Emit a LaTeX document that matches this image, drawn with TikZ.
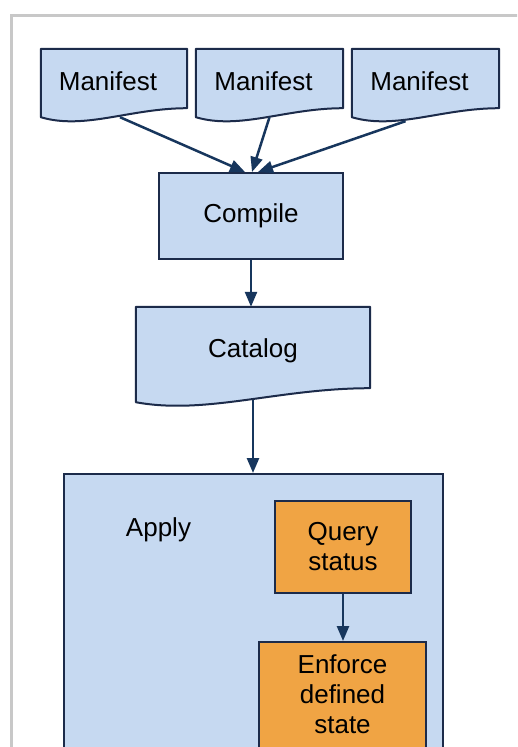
\documentclass[tikz,border=0pt]{standalone}
\usepackage{fontspec}
\setmainfont{Liberation Sans}
\usetikzlibrary{arrows.meta,backgrounds,calc}

\definecolor{boxblue}{HTML}{C6D9F1}
\definecolor{boxedge}{HTML}{1C2B4A}
\definecolor{arrowblue}{HTML}{17365D}
\definecolor{taskorange}{HTML}{F0A444}
\definecolor{framegray}{HTML}{C8C8C8}

% Outline of a document shape built on the rectangle of node #1:
% the right end of the wavy bottom rises by #2, the left end drops by #3,
% #4 sets how deep the wave dips on the left.
\newcommand\docoutline[4]{%
  \path[docedge] (#1.north west) -- (#1.north east) -- ([yshift=#2pt]#1.south east)
    .. controls ($(#1.south west)!0.61!(#1.south east)+(0,-#2)$)
    and ($(#1.south west)!0.30!(#1.south east)+(0,#4)$)
    .. ([yshift=-#3pt]#1.south west) -- cycle;}

\begin{document}
\begin{tikzpicture}[x=1pt,y=-1pt,
  every node/.style={font=\fontsize{26}{30}\selectfont, inner sep=0pt},
  box/.style={rectangle, draw=boxedge, line width=2pt, fill=boxblue},
  docbody/.style={rectangle, draw=none},
  task/.style={rectangle, draw=boxedge, line width=2pt, fill=taskorange},
  docedge/.style={draw=boxedge, line width=2pt, fill=boxblue, line join=round},
  flow/.style={draw=arrowblue, line width=2.5pt, -{Triangle[length=15pt,width=12pt]}},
]
\clip (0,0) rectangle (517,747);

% page frame
\draw[framegray, line width=3pt] (11.5,760) -- (11.5,15.5) -- (530,15.5);

% manifests
\node[docbody, minimum width=146pt, minimum height=64pt] (m1) at (114,81) {\hspace*{-12pt}Manifest};
\node[docbody, minimum width=147pt, minimum height=64pt] (m2) at (269.5,81) {\hspace*{-12pt}Manifest};
\node[docbody, minimum width=147pt, minimum height=64pt] (m3) at (425.5,81) {\hspace*{-12pt}Manifest};

% compile and catalog
\node[box, minimum width=184pt, minimum height=86pt] (compile) at (251,216) {Compile};
\node[docbody, minimum width=234pt, minimum height=88pt] (catalog) at (253,351) {Catalog};

\begin{scope}[on background layer]
  \fill[white] (0,0) rectangle (517,747);
  \docoutline{m1}{5}{4}{17}
  \docoutline{m2}{5}{4}{17}
  \docoutline{m3}{5}{4}{17}
  \docoutline{catalog}{7}{7}{20}
\end{scope}

% apply stage
\node[box, minimum width=379pt, minimum height=340pt, anchor=north] (apply) at (253.5,473) {};
\node (applylabel) at (158.5,530) {Apply};
\node[task, minimum width=136pt, minimum height=92pt, align=center] (query) at (343,547) {Query\\status};
\node[task, minimum width=167pt, minimum height=150pt, anchor=north] (enforce) at (342.5,641) {};
\node[align=center] (enforcetext) at (342.5,694) {Enforce\\defined\\state};

% connectors
\draw[flow] ([xshift=6pt,yshift=-4pt]m1.south) -- ([xshift=-6pt]compile.north);
\draw[flow] ([yshift=-4pt]m2.south) -- ([xshift=1pt]compile.north);
\draw[flow] ([xshift=-20pt,yshift=-8pt]m3.south) -- ([xshift=7pt]compile.north);
\draw[flow] (compile.south) -- (compile.south |- catalog.north);
\draw[flow] ([yshift=-5pt]catalog.south) -- (catalog.south |- apply.north);
\draw[flow] (query.south) -- (query.south |- enforce.north);
\end{tikzpicture}
\end{document}
